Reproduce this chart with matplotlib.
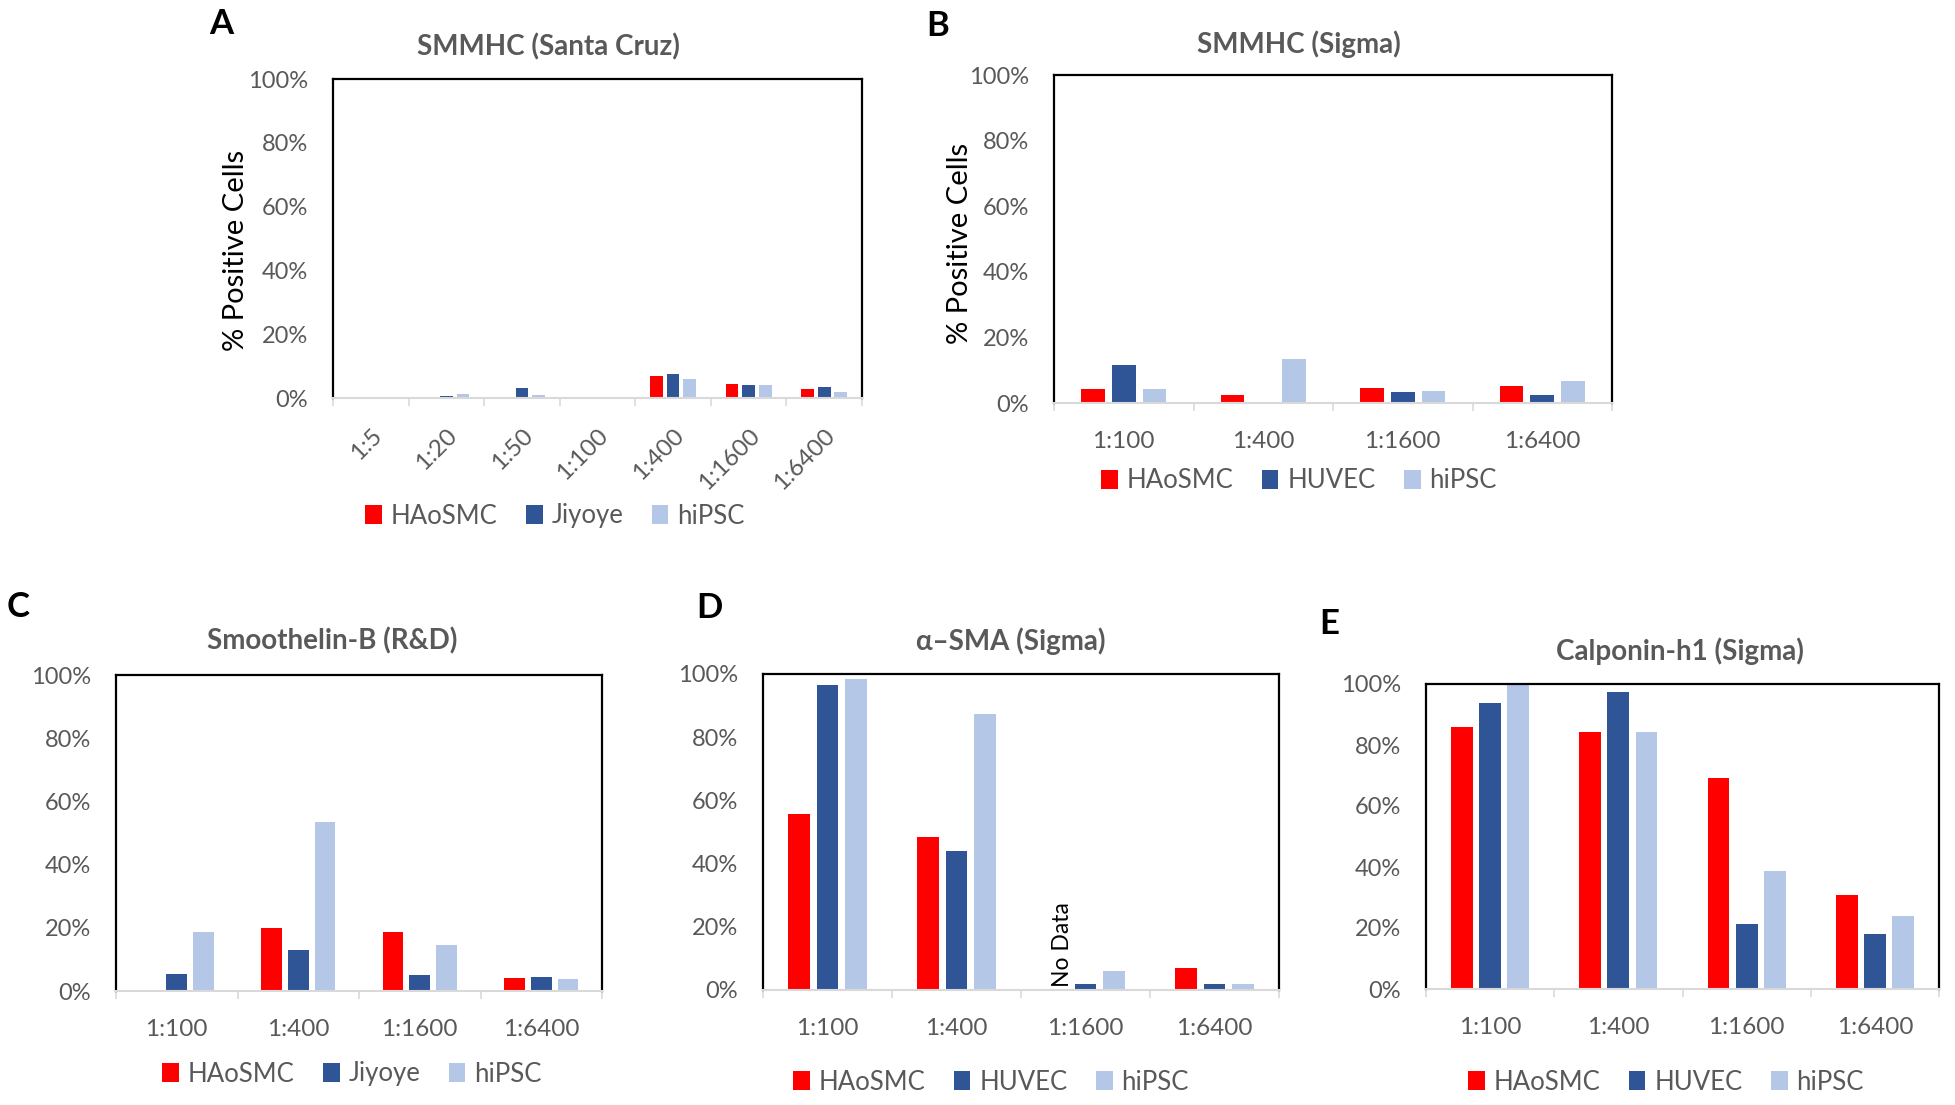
import numpy as np
import matplotlib
matplotlib.use('Agg')
import matplotlib.pyplot as plt

plt.rcParams['font.family'] = ['Lato', 'DejaVu Sans']

# colours of the three cell types
red = '#FF0000'
dark = '#2F5597'
light = '#B4C7E7'
gray = '#595959'

# A: SMMHC (Santa Cruz)
a_cats = ['1:5', '1:20', '1:50', '1:100', '1:400', '1:1600', '1:6400']
a_haosmc = [0, 0, 0, 0, 6.8, 4.4, 2.8]
a_jiyoye = [0, 0.5, 3.0, 0, 7.5, 4.0, 3.3]
a_hipsc = [0, 1.3, 0.9, 0, 5.8, 4.0, 2.0]

# B: SMMHC (Sigma)
dil = ['1:100', '1:400', '1:1600', '1:6400']
b_haosmc = [4.2, 2.5, 4.5, 5.2]
b_huvec = [11.7, 0, 3.4, 2.5]
b_hipsc = [4.4, 13.3, 3.7, 6.8]

# C: Smoothelin-B (R&D)
c_haosmc = [0, 20.0, 18.6, 4.1]
c_jiyoye = [5.5, 13.1, 5.1, 4.3]
c_hipsc = [18.6, 53.6, 14.4, 3.8]

# D: alpha-SMA (Sigma), HAoSMC at 1:1600 has no data
d_haosmc = [55.8, 48.5, np.nan, 7.1]
d_huvec = [96.4, 44.0, 1.8, 1.8]
d_hipsc = [98.4, 87.2, 5.9, 1.8]

# E: Calponin-h1 (Sigma)
e_haosmc = [85.8, 84.3, 69.3, 30.7]
e_huvec = [93.9, 97.4, 21.2, 17.9]
e_hipsc = [99.7, 84.3, 38.8, 23.9]

W, H = 1955, 1105
fig = plt.figure(figsize=(W / 100, H / 100), dpi=100)


def px_axes(x0, y0, x1, y1):
    return fig.add_axes([x0 / W, 1 - y1 / H, (x1 - x0) / W, (y1 - y0) / H])


def fig_text(x, y, s, **kw):
    return fig.text(x / W, 1 - y / H, s, ha='center', va='center', **kw)


def panel(ax, cats, series, names, legx, legy, rot=0):
    x = np.arange(len(cats))
    cols = [red, dark, light]
    for i, (vals, name) in enumerate(zip(series, names)):
        ax.bar(x + (i - 1) * 0.22, vals, width=0.17, color=cols[i], label=name)
    ax.set_xlim(-0.5, len(cats) - 0.5)
    ax.set_ylim(0, 100)
    ax.set_yticks(range(0, 101, 20))
    ax.set_yticklabels(['%d%%' % v for v in range(0, 101, 20)])
    ax.set_xticks(x)
    if rot:
        ax.set_xticklabels(cats, rotation=45, ha='right', rotation_mode='anchor')
    else:
        ax.set_xticklabels(cats)
    ax.set_xticks(np.arange(-0.5, len(cats)), minor=True)
    ax.tick_params(axis='both', which='major', length=0, labelcolor=gray)
    ax.tick_params(axis='y', pad=18, labelsize=17)
    ax.tick_params(axis='x', pad=19 if rot else 20, labelsize=17.5)
    ax.tick_params(axis='x', which='minor', length=6, width=1.2, color='#D9D9D9')
    for s in ['top', 'left', 'right']:
        ax.spines[s].set_color('black')
        ax.spines[s].set_linewidth(1.6)
    ax.spines['bottom'].set_color('#D9D9D9')
    ax.spines['bottom'].set_linewidth(1.5)
    # legend centred at a pixel position of the figure
    ax.legend(loc='center', bbox_to_anchor=(legx / W, 1 - legy / H),
              bbox_transform=fig.transFigure, ncol=3, frameon=False,
              fontsize=18.5, labelcolor=gray, handlelength=0.65, handleheight=0.75,
              handletextpad=0.35, columnspacing=1.1)


axA = px_axes(333, 79, 862, 398)
panel(axA, a_cats, [a_haosmc, a_jiyoye, a_hipsc], ['HAoSMC', 'Jiyoye', 'hiPSC'],
      555, 516, rot=45)
fig_text(236, 250, '% Positive Cells', rotation=90, fontsize=21, color='black')
fig_text(548, 47, 'SMMHC (Santa Cruz)', fontsize=20, fontweight='bold', color=gray)
fig_text(221, 24, 'A', fontsize=25, fontweight='bold', color='black')

axB = px_axes(1054, 75, 1612, 403)
panel(axB, dil, [b_haosmc, b_huvec, b_hipsc], ['HAoSMC', 'HUVEC', 'hiPSC'],
      1299, 481)
fig_text(960, 243, '% Positive Cells', rotation=90, fontsize=21, color='black')
fig_text(1299, 44, 'SMMHC (Sigma)', fontsize=20, fontweight='bold', color=gray)
fig_text(938, 26, 'B', fontsize=25, fontweight='bold', color='black')

axC = px_axes(116, 675, 602, 991)
panel(axC, dil, [c_haosmc, c_jiyoye, c_hipsc], ['HAoSMC', 'Jiyoye', 'hiPSC'],
      352, 1074)
fig_text(332, 641, 'Smoothelin-B (R&D)', fontsize=20, fontweight='bold', color=gray)
fig_text(18, 607, 'C', fontsize=25, fontweight='bold', color='black')

axD = px_axes(763, 674, 1279, 990)
panel(axD, dil, [d_haosmc, d_huvec, d_hipsc], ['HAoSMC', 'HUVEC', 'hiPSC'],
      991, 1082)
axD.text(1.82, 0.8, 'No Data', rotation=90, ha='center', va='bottom',
         fontsize=16.5, color='black')
fig_text(1011, 641, 'α–SMA (Sigma)', fontsize=20, fontweight='bold', color=gray)
fig_text(709, 608, 'D', fontsize=25, fontweight='bold', color='black')

axE = px_axes(1426, 684, 1939, 989)
panel(axE, dil, [e_haosmc, e_huvec, e_hipsc], ['HAoSMC', 'HUVEC', 'hiPSC'],
      1666, 1082)
fig_text(1680, 651, 'Calponin-h1 (Sigma)', fontsize=20, fontweight='bold', color=gray)
fig_text(1329, 624, 'E', fontsize=25, fontweight='bold', color='black')

fig.savefig('out.png', dpi=100)
